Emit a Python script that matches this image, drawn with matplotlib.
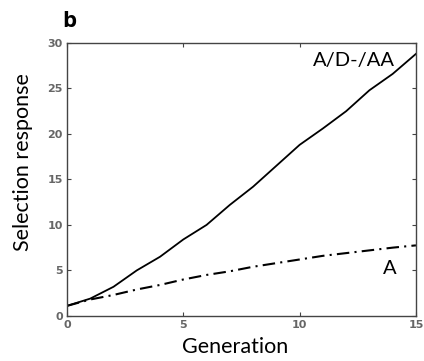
from matplotlib import pyplot as plt

generation = list(range(16))
resp_full = [1.1, 1.9, 3.2, 5.0, 6.5, 8.4, 10.0, 12.2, 14.2, 16.5, 18.8, 20.6, 22.5, 24.8, 26.6, 28.8]
resp_add = [1.1, 1.8, 2.3, 2.9, 3.4, 4.0, 4.5, 4.9, 5.4, 5.8, 6.2, 6.6, 6.9, 7.2, 7.5, 7.75]

x_ticks = [0, 5, 10, 15]
y_ticks = [0, 5, 10, 15, 20, 25, 30]

fig = plt.figure(figsize=(4.24, 3.61), dpi=100)
ax = fig.add_axes([0.158, 0.125, 0.823, 0.756])

ax.plot(generation, resp_full, color='black', lw=1.3, ls='-')
ax.plot(generation, resp_add, color='black', lw=1.5, ls=(0, (6, 2.5, 1, 2.5)))

ax.set_xlim(0, 15)
ax.set_ylim(0, 30)
ax.set_xticks(x_ticks)
ax.set_yticks(y_ticks)
ax.tick_params(direction='in', top=True, right=True, length=3, labelsize=8,
               labelcolor='#666666', color='#444444', pad=3)
for lab in ax.get_xticklabels() + ax.get_yticklabels():
    lab.set_fontweight('bold')
for sp in ax.spines.values():
    sp.set_color('#444444')
    sp.set_linewidth(1.0)

# axis titles placed where the reference has them
fig.text(235 / 424, 1 - 353 / 361, 'Generation', fontsize=15.5, family='Lato',
         ha='center', va='baseline')
fig.text(23 / 424, 1 - 162 / 361, 'Selection response', fontsize=15.5, family='Lato',
         ha='center', va='center', rotation=90)

ax.text(10.57, 27.5, 'A/D-/AA', fontsize=14.5, family='Lato', va='baseline')
ax.text(13.58, 4.57, 'A', fontsize=14.5, family='Lato', va='baseline')
fig.text(62 / 424, 1 - 27 / 361, 'b', fontsize=16, fontweight='bold', family='Open Sans',
         va='baseline')

fig.savefig('out.png', dpi=100)
